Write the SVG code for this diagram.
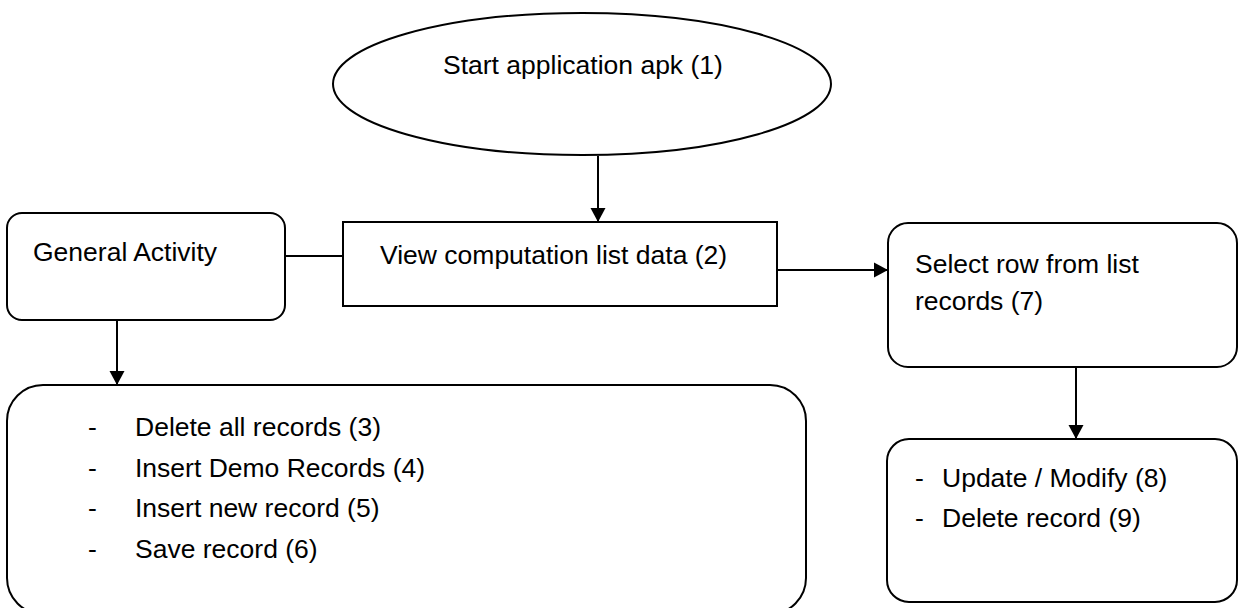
<svg xmlns="http://www.w3.org/2000/svg" width="1239" height="608" viewBox="0 0 1239 608">
<defs>
<style>
.shape{fill:#fff;stroke:#000;stroke-width:2}
.conn{fill:none;stroke:#000;stroke-width:2}
text{font-family:"Liberation Sans",Arial,sans-serif;font-size:26.5px;fill:#000}
</style>
<marker id="arr" markerUnits="userSpaceOnUse" markerWidth="16" markerHeight="16" viewBox="0 0 16 16" refX="15" refY="8" orient="auto">
<path d="M1,0.5 L15,8 L1,15.5 Z" fill="#000"/>
</marker>
</defs>
<rect width="1239" height="608" fill="#fff"/>
<g id="connectors">
<line class="conn" x1="598" y1="156" x2="598" y2="222" marker-end="url(#arr)"/>
<line class="conn" x1="285" y1="256" x2="343" y2="256"/>
<line class="conn" x1="117" y1="320" x2="117" y2="385" marker-end="url(#arr)"/>
<line class="conn" x1="777" y1="270" x2="888" y2="270" marker-end="url(#arr)"/>
<line class="conn" x1="1076" y1="367" x2="1076" y2="439" marker-end="url(#arr)"/>
</g>
<g id="start">
<ellipse class="shape" cx="582" cy="84" rx="249" ry="71"/>
<text x="443" y="74">Start application apk (1)</text>
</g>
<g id="view">
<rect class="shape" x="343" y="222" width="434" height="84"/>
<text x="380" y="264">View computation list data (2)</text>
</g>
<g id="general">
<rect class="shape" x="7" y="213" width="278" height="107" rx="15" ry="15"/>
<text x="33" y="261">General Activity</text>
</g>
<g id="general-actions">
<rect class="shape" x="7" y="385" width="799" height="229" rx="36" ry="36"/>
<text x="88" y="436">-</text><text x="135" y="436">Delete all records (3)</text>
<text x="88" y="477">-</text><text x="135" y="477">Insert Demo Records (4)</text>
<text x="88" y="517">-</text><text x="135" y="517">Insert new record (5)</text>
<text x="88" y="558">-</text><text x="135" y="558">Save record (6)</text>
</g>
<g id="select">
<rect class="shape" x="888" y="223" width="349" height="144" rx="20" ry="20"/>
<text x="915" y="273">Select row from list</text>
<text x="915" y="310">records (7)</text>
</g>
<g id="row-actions">
<rect class="shape" x="887" y="439" width="350" height="163" rx="22" ry="22"/>
<text x="915" y="487">-</text><text x="942" y="487">Update / Modify (8)</text>
<text x="915" y="527">-</text><text x="942" y="527">Delete record (9)</text>
</g>
</svg>
